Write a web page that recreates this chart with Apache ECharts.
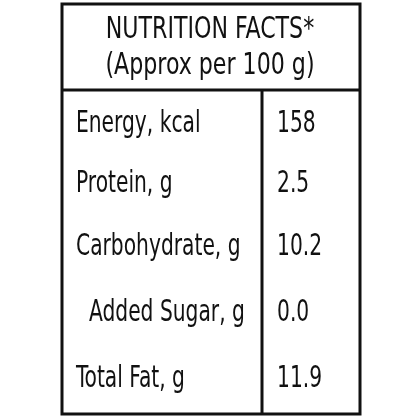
<!DOCTYPE html>
<html><head><meta charset="utf-8">
<script src="https://cdn.jsdelivr.net/npm/echarts@6/dist/echarts.min.js"></script>
<style>html,body{margin:0;padding:0;background:#fff}#c{width:420px;height:420px}</style>
</head><body><div id="c"></div>
<script>
const titleLines = ["NUTRITION FACTS*", "(Approx per 100 g)"];
const nutrients = ["Energy, kcal", "Protein, g", "Carbohydrate, g", "Added Sugar, g", "Total Fat, g"];
const values = ["158", "2.5", "10.2", "0.0", "11.9"];
const indented = [false, false, false, true, false];

const font = "'Liberation Sans Narrow','DejaVu Sans Condensed','Roboto Condensed',sans-serif";
const chart = echarts.init(document.getElementById('c'));
const L = 62, R = 360, T = 4, B = 414, H = 90, V = 262;
const rowY = [124, 184, 247, 313, 379];
const g = [];
g.push({type:'rect', shape:{x:L, y:T, width:R-L, height:B-T}, style:{fill:'none', stroke:'#111', lineWidth:3}});
g.push({type:'line', shape:{x1:L, y1:H, x2:R, y2:H}, style:{stroke:'#111', lineWidth:3}});
g.push({type:'line', shape:{x1:V, y1:H, x2:V, y2:B}, style:{stroke:'#111', lineWidth:3}});
titleLines.forEach((t,i)=>g.push({type:'text', x:210, y:[30,66][i], scaleX:0.82, style:{text:t, font:'30px '+font, fill:'#111', textAlign:'center', textVerticalAlign:'middle'}}));
nutrients.forEach((n,i)=>{
  g.push({type:'text', x: indented[i]?89:76, y:rowY[i], scaleX:0.75, style:{text:n, font:'30px '+font, fill:'#111', textVerticalAlign:'middle'}});
  g.push({type:'text', x:277, y:rowY[i], scaleX:0.75, style:{text:values[i], font:'30px '+font, fill:'#111', textVerticalAlign:'middle'}});
});
chart.setOption({animation:false, graphic:g});
</script></body></html>
